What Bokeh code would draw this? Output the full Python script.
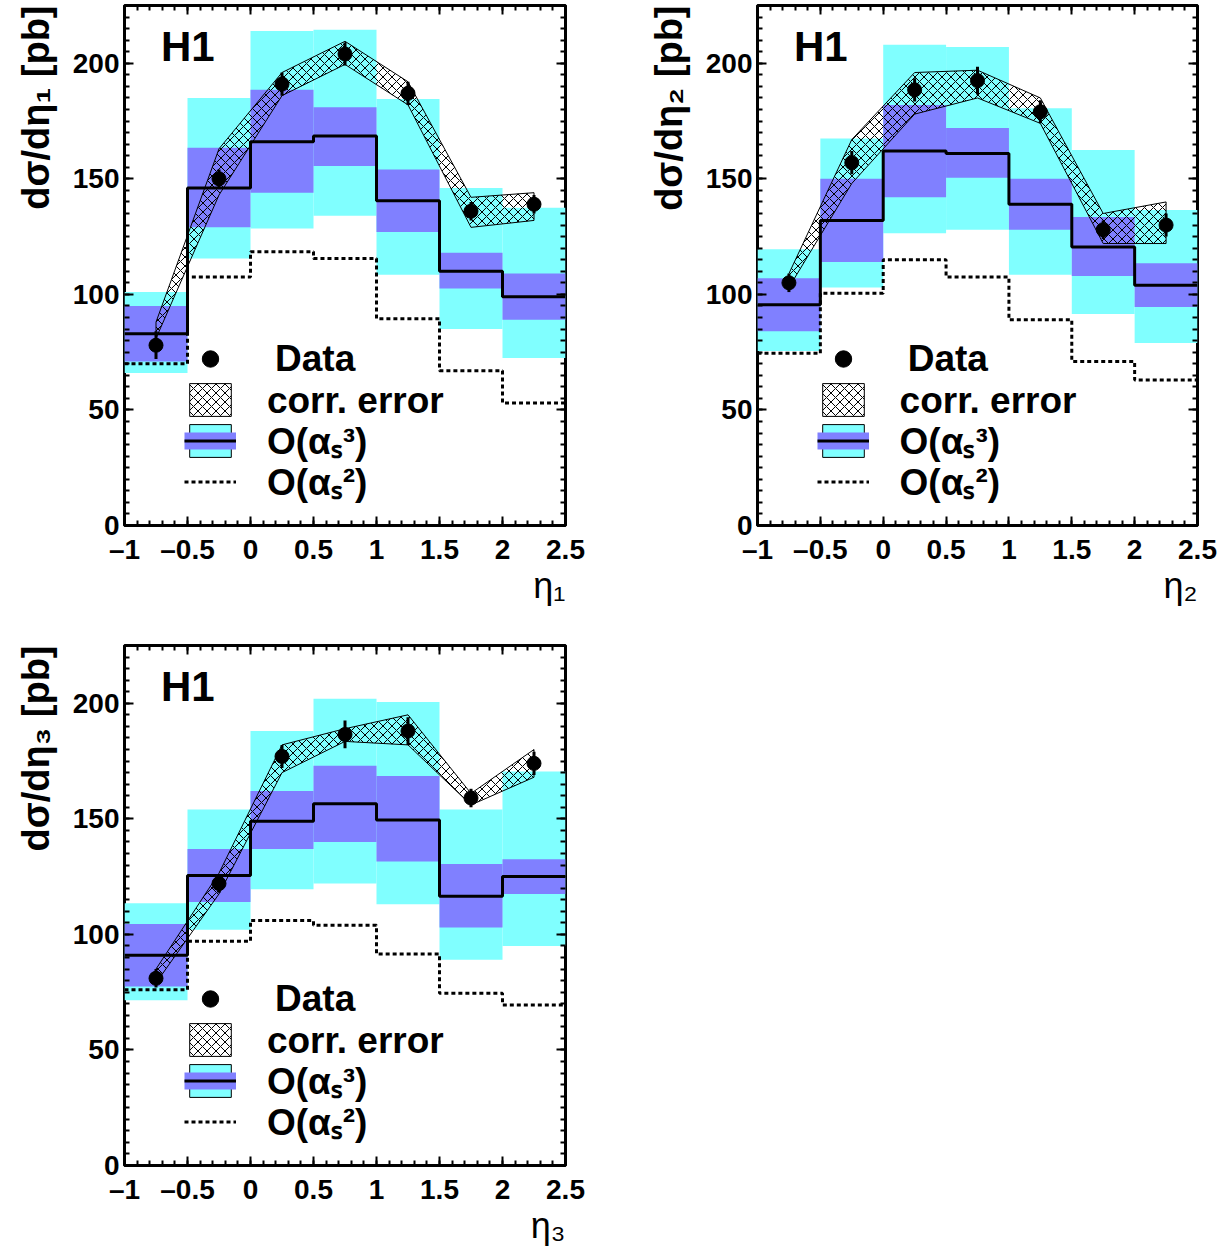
import numpy as np
from bokeh.plotting import figure
from bokeh.layouts import column, row
from bokeh.models import (Range1d, LinearAxis, Label, Legend, LegendItem, Title,
                          FixedTicker, CustomJSTickFormatter)
from bokeh.embed import file_html
from bokeh.resources import INLINE

# ---------------- data ----------------
edges = [-1.0, -0.5, 0.0, 0.5, 1.0, 1.5, 2.0, 2.5]
centers = [-0.75, -0.25, 0.25, 0.75, 1.25, 1.75, 2.25]
x_ticks = [-1.0, -0.5, 0.0, 0.5, 1.0, 1.5, 2.0, 2.5]
y_ticks = [0, 50, 100, 150, 200]

# eta_1
eta1_data = [78, 150, 191, 204, 187, 136, 139]
eta1_err = [6, 4, 5, 5, 5, 4, 4]
eta1_corr_up = [88, 163, 196, 209.5, 192, 142, 144]
eta1_corr_lo = [81, 143, 186, 199.5, 182, 129, 132]
eta1_nlo = [83, 146, 166, 168.5, 140.5, 110, 99]
eta1_nlo_in_up = [95, 163.5, 188.5, 181, 154, 118, 109]
eta1_nlo_in_lo = [71, 129, 144, 155.5, 127, 102.5, 89]
eta1_nlo_out_up = [101, 185, 214, 214.5, 184.5, 146, 137.5]
eta1_nlo_out_lo = [66, 115.5, 128.5, 134, 108.5, 85, 72.5]
eta1_lo = [70, 107.5, 118.5, 115.5, 89.5, 67, 53]

# eta_2
eta2_data = [105, 157, 188.5, 192.5, 179, 128, 130]
eta2_err = [4, 5, 5, 6, 5, 4, 5]
eta2_corr_up = [109, 167, 196, 197, 185, 135, 140]
eta2_corr_lo = [103, 148, 178, 185, 174, 122, 122]
eta2_nlo = [95.5, 132, 162, 161, 139, 120.5, 104]
eta2_nlo_in_up = [107, 150, 182, 172, 150, 133.5, 113.5]
eta2_nlo_in_lo = [84, 114, 142, 150.5, 128, 108, 94.5]
eta2_nlo_out_up = [119.5, 167.5, 208, 207, 180.5, 162.5, 136.5]
eta2_nlo_out_lo = [75.5, 103, 126.5, 128, 108.5, 91.5, 79]
eta2_lo = [74.5, 100.5, 115, 107.5, 89, 71, 63]

# eta_3
eta3_data = [81, 122, 177, 186.5, 188, 159, 174]
eta3_err = [4, 4, 5, 6, 6, 4, 5]
eta3_corr_up = [85, 126.5, 182, 189, 195, 161, 180]
eta3_corr_lo = [79, 117.5, 170, 183.5, 182, 156, 168]
eta3_nlo = [91, 125.5, 149, 156.5, 149.5, 116.5, 125]
eta3_nlo_in_up = [104.5, 137, 162, 173, 168.5, 130.5, 132.5]
eta3_nlo_in_lo = [77.5, 114, 137, 140, 131.5, 103, 117.5]
eta3_nlo_out_up = [113.5, 154, 188, 202, 200.5, 154, 170.5]
eta3_nlo_out_lo = [71.5, 102, 119.5, 122, 113, 89, 95]
eta3_lo = [76, 97, 106, 104, 91.5, 74.5, 69.5]

legend_labels = ["Data", "corr. error", "O(\u03b1\u209b\u00b3)", "O(\u03b1\u209b\u00b2)"]

CYAN = "#80ffff"
BLUE = "#8080ff"
FONT = "Liberation Sans"
NAN = [float("nan")]


def make_panel(idx, data, err, cu, cl, nlo, in_up, in_lo, out_up, out_lo, lo,
               width, height, bl, br, bt, bb):
    p = figure(width=width, height=height, x_range=Range1d(-1, 2.5),
               y_range=Range1d(0, 225), output_backend="svg",
               toolbar_location=None, min_border_left=bl, min_border_right=br,
               min_border_top=bt, min_border_bottom=bb)
    p.grid.visible = False
    p.outline_line_color = "black"
    p.outline_line_width = 3
    p.background_fill_color = "white"

    xt = FixedTicker(ticks=x_ticks, minor_ticks=list(np.round(np.arange(-1, 2.5001, 0.1), 2)))
    yt = FixedTicker(ticks=y_ticks, minor_ticks=list(range(0, 226, 5)))
    p.xaxis[0].ticker = xt
    p.yaxis[0].ticker = yt
    p.xaxis[0].major_label_overrides = {-1.0: "\u20131", -0.5: "\u20130.5"}
    for ax in (p.xaxis[0], p.yaxis[0]):
        ax.axis_line_color = None
        ax.major_tick_in = 9
        ax.major_tick_out = 0
        ax.minor_tick_in = 5
        ax.minor_tick_out = 0
        ax.major_tick_line_width = 2
        ax.minor_tick_line_width = 2
        ax.major_label_text_font = FONT
        ax.major_label_text_font_style = "bold"
        ax.major_label_text_font_size = "28px"
        ax.major_label_text_color = "black"
    p.xaxis[0].major_label_standoff = 8
    p.yaxis[0].major_label_standoff = 5

    empty = CustomJSTickFormatter(code="return ''")
    top = LinearAxis(ticker=xt, formatter=empty, major_label_standoff=0,
                     axis_line_color=None, major_tick_in=9, major_tick_out=0,
                     minor_tick_in=5, minor_tick_out=0,
                     major_tick_line_width=2, minor_tick_line_width=2)
    right = LinearAxis(ticker=yt, formatter=empty, major_label_standoff=0,
                       axis_line_color=None, major_tick_in=9, major_tick_out=0,
                       minor_tick_in=5, minor_tick_out=0,
                       major_tick_line_width=2, minor_tick_line_width=2)
    p.add_layout(top, "above")
    p.add_layout(right, "right")

    sub = "\u2081\u2082\u2083"[idx]
    p.add_layout(Title(text="d\u03c3/d\u03b7" + sub + " [pb]", align="right",
                       vertical_align="middle",
                       text_font=FONT, text_font_style="bold",
                       text_font_size="38px", text_color="black", standoff=24),
                 "left")
    p.add_layout(Title(text="\u03b7" + sub, align="right", text_font=FONT,
                       text_font_style="normal", text_font_size="36px",
                       text_color="black", standoff=-10), "below")

    # theory bands
    p.quad(left=edges[:-1], right=edges[1:], top=out_up, bottom=out_lo,
           fill_color=CYAN, line_color=None)
    p.quad(left=edges[:-1], right=edges[1:], top=in_up, bottom=in_lo,
           fill_color=BLUE, line_color=None)
    # correlated error band
    r_band = p.patch(x=centers + centers[::-1], y=cu + cl[::-1],
                     fill_color=None, line_color="black", line_width=1,
                     hatch_pattern="diagonal_cross", hatch_color="black",
                     hatch_scale=9, hatch_weight=1)
    # NLO and LO histograms
    r_nlo = p.step(x=edges, y=nlo + [nlo[-1]], mode="after",
                   line_color="black", line_width=3)
    r_lo = p.step(x=edges, y=lo + [lo[-1]], mode="after",
                  line_color="black", line_width=3, line_dash="4 3")
    # data
    d = np.array(data, dtype=float)
    e = np.array(err, dtype=float)
    p.segment(x0=centers, y0=d - e, x1=centers, y1=d + e,
              line_color="black", line_width=3)
    r_data = p.scatter(x=centers, y=data, size=14, marker="circle",
                       fill_color="black", line_color="black")

    # legend-only proxies (NaN data, never visible in the plot)
    r_box = p.quad(left=NAN, right=NAN, top=NAN, bottom=NAN, fill_color=CYAN,
                   line_color="black", line_width=1)
    r_mid = p.line(x=NAN, y=NAN, line_color=BLUE, line_width=17)

    legend = Legend(items=[
        LegendItem(label="", renderers=[r_data]),
        LegendItem(label="", renderers=[r_band]),
        LegendItem(label="", renderers=[r_box, r_mid, r_nlo]),
        LegendItem(label="", renderers=[r_lo]),
    ], location=(60, 23))
    legend.border_line_color = None
    legend.background_fill_alpha = 0
    legend.padding = 0
    legend.margin = 0
    legend.spacing = 0
    legend.glyph_width = 52
    legend.glyph_height = 41
    legend.label_height = 10
    legend.label_standoff = 0
    legend.label_text_font_size = "8px"
    p.add_layout(legend)

    # legend texts
    text_x = [0.195, 0.13, 0.13, 0.13]
    text_y = [72.1, 53.9, 36.2, 18.4]
    for lab, tx, ty in zip(legend_labels, text_x, text_y):
        p.add_layout(Label(x=tx, y=ty, text=lab, text_font=FONT,
                           text_font_style="bold", text_font_size="37px",
                           text_color="black", text_baseline="middle"))

    p.add_layout(Label(x=-0.71, y=207.4, text="H1", text_font=FONT,
                       text_font_style="bold", text_font_size="42px",
                       text_color="black", text_baseline="middle"))
    return p


p1 = make_panel(0, eta1_data, eta1_err, eta1_corr_up, eta1_corr_lo, eta1_nlo,
                eta1_nlo_in_up, eta1_nlo_in_lo, eta1_nlo_out_up, eta1_nlo_out_lo,
                eta1_lo, 595, 640, 124, 30, 5, 115)
p2 = make_panel(1, eta2_data, eta2_err, eta2_corr_up, eta2_corr_lo, eta2_nlo,
                eta2_nlo_in_up, eta2_nlo_in_lo, eta2_nlo_out_up, eta2_nlo_out_lo,
                eta2_lo, 632, 640, 162, 30, 5, 115)
p3 = make_panel(2, eta3_data, eta3_err, eta3_corr_up, eta3_corr_lo, eta3_nlo,
                eta3_nlo_in_up, eta3_nlo_in_lo, eta3_nlo_out_up, eta3_nlo_out_lo,
                eta3_lo, 595, 608, 124, 30, 5, 83)

layout = column(row(p1, p2), p3)

open("out.html", "w").write(file_html(layout, INLINE))
